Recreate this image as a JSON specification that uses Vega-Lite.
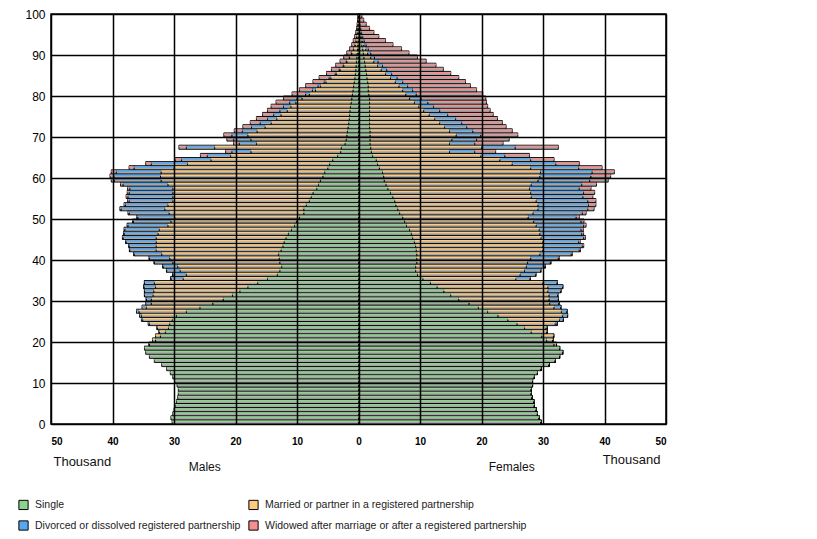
{
  "$schema": "https://vega.github.io/schema/vega-lite/v6.json",
  "width": 615,
  "height": 410,
  "autosize": {"type": "none"},
  "padding": {"left": 51, "top": 14, "right": 151, "bottom": 115},
  "background": "#ffffff",
  "config": {
    "view": {"stroke": "#000000", "strokeWidth": 1.5},
    "font": "Liberation Sans",
    "legend": {
      "orient": "none",
      "legendX": -33,
      "legendY": 485,
      "columns": 2,
      "direction": "horizontal",
      "title": null,
      "symbolType": "square",
      "symbolSize": 85,
      "symbolStrokeColor": "#000000",
      "symbolStrokeWidth": 1,
      "symbolOpacity": 1,
      "labelFont": "Liberation Sans",
      "labelFontSize": 10.5,
      "labelColor": "#222222",
      "labelLimit": 400,
      "labelOffset": 6,
      "rowPadding": 6,
      "columnPadding": 5
    }
  },
  "layer": [
    {
      "data": {"values": [
        {"age":0,"mS":30.3,"mM":0,"mD":0,"mW":0,"fS":29.7,"fM":0,"fD":0,"fW":0},
        {"age":1,"mS":30.5,"mM":0,"mD":0,"mW":0,"fS":29.4,"fM":0,"fD":0,"fW":0},
        {"age":2,"mS":30.2,"mM":0,"mD":0,"mW":0,"fS":29.1,"fM":0,"fD":0,"fW":0},
        {"age":3,"mS":30.0,"mM":0,"mD":0,"mW":0,"fS":28.9,"fM":0,"fD":0,"fW":0},
        {"age":4,"mS":29.8,"mM":0,"mD":0,"mW":0,"fS":28.6,"fM":0,"fD":0,"fW":0},
        {"age":5,"mS":29.6,"mM":0,"mD":0,"mW":0,"fS":28.5,"fM":0,"fD":0,"fW":0},
        {"age":6,"mS":29.4,"mM":0,"mD":0,"mW":0,"fS":28.2,"fM":0,"fD":0,"fW":0},
        {"age":7,"mS":29.3,"mM":0,"mD":0,"mW":0,"fS":28.1,"fM":0,"fD":0,"fW":0},
        {"age":8,"mS":29.3,"mM":0,"mD":0,"mW":0,"fS":28.1,"fM":0,"fD":0,"fW":0},
        {"age":9,"mS":29.5,"mM":0,"mD":0,"mW":0,"fS":28.3,"fM":0,"fD":0,"fW":0},
        {"age":10,"mS":29.9,"mM":0,"mD":0,"mW":0,"fS":28.3,"fM":0,"fD":0,"fW":0},
        {"age":11,"mS":30.2,"mM":0,"mD":0,"mW":0,"fS":28.6,"fM":0,"fD":0,"fW":0},
        {"age":12,"mS":30.6,"mM":0,"mD":0,"mW":0,"fS":29.1,"fM":0,"fD":0,"fW":0},
        {"age":13,"mS":31.2,"mM":0,"mD":0,"mW":0,"fS":29.7,"fM":0,"fD":0,"fW":0},
        {"age":14,"mS":32.0,"mM":0,"mD":0,"mW":0,"fS":31.0,"fM":0,"fD":0,"fW":0},
        {"age":15,"mS":33.2,"mM":0,"mD":0,"mW":0,"fS":32.0,"fM":0,"fD":0,"fW":0},
        {"age":16,"mS":34.0,"mM":0,"mD":0,"mW":0,"fS":32.7,"fM":0,"fD":0,"fW":0},
        {"age":17,"mS":34.6,"mM":0,"mD":0,"mW":0,"fS":33.2,"fM":0,"fD":0,"fW":0},
        {"age":18,"mS":34.8,"mM":0,"mD":0,"mW":0,"fS":32.7,"fM":0,"fD":0,"fW":0},
        {"age":19,"mS":34.0,"mM":0.1,"mD":0,"mW":0,"fS":31.8,"fM":0.4,"fD":0,"fW":0},
        {"age":20,"mS":33.0,"mM":0.5,"mD":0,"mW":0,"fS":30.6,"fM":1.0,"fD":0,"fW":0},
        {"age":21,"mS":32.2,"mM":0.8,"mD":0,"mW":0,"fS":29.8,"fM":1.9,"fD":0.05,"fW":0},
        {"age":22,"mS":31.4,"mM":1.0,"mD":0.05,"mW":0,"fS":28.1,"fM":2.5,"fD":0.1,"fW":0},
        {"age":23,"mS":30.9,"mM":1.8,"mD":0.1,"mW":0,"fS":27.0,"fM":3.5,"fD":0.2,"fW":0},
        {"age":24,"mS":30.7,"mM":3.3,"mD":0.2,"mW":0,"fS":25.8,"fM":6.2,"fD":0.3,"fW":0},
        {"age":25,"mS":30.3,"mM":4.8,"mD":0.2,"mW":0,"fS":24.3,"fM":8.4,"fD":0.6,"fW":0},
        {"age":26,"mS":29.6,"mM":5.7,"mD":0.3,"mW":0,"fS":22.7,"fM":10.5,"fD":0.8,"fW":0},
        {"age":27,"mS":28.0,"mM":7.7,"mD":0.4,"mW":0,"fS":21.0,"fM":12.0,"fD":0.9,"fW":0},
        {"age":28,"mS":25.8,"mM":8.7,"mD":0.7,"mW":0,"fS":19.5,"fM":12.3,"fD":1.1,"fW":0.01},
        {"age":29,"mS":23.7,"mM":10.0,"mD":0.9,"mW":0,"fS":18.0,"fM":13.1,"fD":1.5,"fW":0.01},
        {"age":30,"mS":22.0,"mM":11.7,"mD":0.8,"mW":0.01,"fS":16.3,"fM":14.7,"fD":1.5,"fW":0.02},
        {"age":31,"mS":20.5,"mM":12.9,"mD":1.4,"mW":0.01,"fS":15.0,"fM":16.0,"fD":1.4,"fW":0.02},
        {"age":32,"mS":19.3,"mM":14.0,"mD":1.5,"mW":0.01,"fS":13.9,"fM":16.9,"fD":2.1,"fW":0.03},
        {"age":33,"mS":18.0,"mM":15.0,"mD":1.9,"mW":0.01,"fS":12.8,"fM":18.0,"fD":2.4,"fW":0.04},
        {"age":34,"mS":16.4,"mM":16.8,"mD":1.6,"mW":0.02,"fS":11.7,"fM":18.3,"fD":2.3,"fW":0.05},
        {"age":35,"mS":14.8,"mM":13.7,"mD":2.0,"mW":0.02,"fS":10.5,"fM":15.1,"fD":2.3,"fW":0.06},
        {"age":36,"mS":13.2,"mM":14.8,"mD":2.2,"mW":0.02,"fS":9.6,"fM":16.7,"fD":2.5,"fW":0.08},
        {"age":37,"mS":12.8,"mM":16.2,"mD":2.2,"mW":0.03,"fS":9.3,"fM":17.7,"fD":2.6,"fW":0.1},
        {"age":38,"mS":12.5,"mM":16.9,"mD":2.4,"mW":0.03,"fS":9.3,"fM":18.0,"fD":3.0,"fW":0.1},
        {"age":39,"mS":12.8,"mM":17.4,"mD":3.0,"mW":0.04,"fS":9.5,"fM":18.0,"fD":3.7,"fW":0.12},
        {"age":40,"mS":12.9,"mM":17.8,"mD":3.3,"mW":0.05,"fS":9.5,"fM":18.5,"fD":4.5,"fW":0.15},
        {"age":41,"mS":13.0,"mM":19.0,"mD":4.5,"mW":0.05,"fS":9.5,"fM":20.0,"fD":5.1,"fW":0.17},
        {"age":42,"mS":12.6,"mM":20.3,"mD":4.3,"mW":0.06,"fS":9.4,"fM":20.6,"fD":5.9,"fW":0.2},
        {"age":43,"mS":12.3,"mM":20.6,"mD":4.4,"mW":0.07,"fS":9.3,"fM":20.7,"fD":6.4,"fW":0.22},
        {"age":44,"mS":12.1,"mM":20.8,"mD":4.9,"mW":0.08,"fS":9.1,"fM":20.9,"fD":5.8,"fW":0.25},
        {"age":45,"mS":11.8,"mM":21.1,"mD":5.4,"mW":0.09,"fS":8.8,"fM":20.9,"fD":6.9,"fW":0.3},
        {"age":46,"mS":11.4,"mM":21.2,"mD":5.5,"mW":0.1,"fS":8.6,"fM":20.9,"fD":6.8,"fW":0.3},
        {"age":47,"mS":10.9,"mM":21.5,"mD":5.6,"mW":0.12,"fS":8.3,"fM":21.1,"fD":6.8,"fW":0.35},
        {"age":48,"mS":10.4,"mM":20.6,"mD":6.5,"mW":0.13,"fS":7.8,"fM":21.1,"fD":7.7,"fW":0.4},
        {"age":49,"mS":10.1,"mM":20.4,"mD":6.1,"mW":0.15,"fS":7.5,"fM":21.0,"fD":7.7,"fW":0.45},
        {"age":50,"mS":9.6,"mM":20.3,"mD":6.0,"mW":0.16,"fS":7.2,"fM":20.4,"fD":7.8,"fW":0.5},
        {"age":51,"mS":8.9,"mM":21.9,"mD":6.5,"mW":0.18,"fS":6.7,"fM":21.7,"fD":8.0,"fW":0.6},
        {"age":52,"mS":8.9,"mM":22.6,"mD":7.1,"mW":0.2,"fS":6.4,"fM":22.8,"fD":8.1,"fW":1.0},
        {"age":53,"mS":8.5,"mM":22.5,"mD":6.9,"mW":0.22,"fS":6.1,"fM":23.1,"fD":8.2,"fW":1.2},
        {"age":54,"mS":8.0,"mM":22.2,"mD":7.1,"mW":0.25,"fS":5.9,"fM":23.0,"fD":8.4,"fW":1.3},
        {"age":55,"mS":7.7,"mM":22.5,"mD":7.3,"mW":0.28,"fS":5.6,"fM":22.5,"fD":8.4,"fW":1.6},
        {"age":56,"mS":7.4,"mM":22.8,"mD":7.1,"mW":0.3,"fS":5.2,"fM":22.8,"fD":8.6,"fW":1.8},
        {"age":57,"mS":6.8,"mM":23.4,"mD":7.0,"mW":0.35,"fS":4.8,"fM":23.0,"fD":8.1,"fW":1.9},
        {"age":58,"mS":6.5,"mM":24.5,"mD":7.3,"mW":0.4,"fS":4.5,"fM":23.6,"fD":8.2,"fW":2.4},
        {"age":59,"mS":6.2,"mM":25.9,"mD":7.6,"mW":0.5,"fS":4.2,"fM":25.0,"fD":8.4,"fW":3.0},
        {"age":60,"mS":5.8,"mM":26.4,"mD":7.6,"mW":0.6,"fS":4.1,"fM":25.4,"fD":8.3,"fW":3.2},
        {"age":61,"mS":5.5,"mM":26.6,"mD":7.3,"mW":0.8,"fS":3.9,"fM":25.7,"fD":8.4,"fW":3.6},
        {"age":62,"mS":5.0,"mM":25.0,"mD":6.5,"mW":0.8,"fS":3.4,"fM":24.6,"fD":7.8,"fW":3.8},
        {"age":63,"mS":4.7,"mM":23.1,"mD":5.9,"mW":0.9,"fS":3.1,"fM":21.9,"fD":7.1,"fW":3.8},
        {"age":64,"mS":4.2,"mM":19.8,"mD":4.8,"mW":1.0,"fS":2.9,"fM":20.1,"fD":5.0,"fW":3.8},
        {"age":65,"mS":3.4,"mM":17.4,"mD":3.8,"mW":1.1,"fS":2.3,"fM":17.6,"fD":3.9,"fW":4.0},
        {"age":66,"mS":2.9,"mM":14.6,"mD":3.1,"mW":1.0,"fS":2.1,"fM":12.7,"fD":4.1,"fW":3.4},
        {"age":67,"mS":2.8,"mM":20.6,"mD":4.6,"mW":1.2,"fS":2.0,"fM":18.0,"fD":5.5,"fW":7.0},
        {"age":68,"mS":2.2,"mM":14.4,"mD":2.8,"mW":0.9,"fS":1.9,"fM":12.9,"fD":4.1,"fW":4.6},
        {"age":69,"mS":2.0,"mM":15.5,"mD":2.8,"mW":1.1,"fS":1.9,"fM":13.3,"fD":4.0,"fW":5.3},
        {"age":70,"mS":1.9,"mM":16.1,"mD":2.6,"mW":1.3,"fS":1.9,"fM":14.0,"fD":4.0,"fW":6.0},
        {"age":71,"mS":1.8,"mM":14.7,"mD":2.4,"mW":1.3,"fS":1.9,"fM":12.9,"fD":3.8,"fW":6.4},
        {"age":72,"mS":1.7,"mM":13.5,"mD":2.2,"mW":1.4,"fS":1.8,"fM":12.2,"fD":3.6,"fW":6.4},
        {"age":73,"mS":1.6,"mM":12.6,"mD":1.8,"mW":1.6,"fS":1.8,"fM":11.4,"fD":3.6,"fW":6.6},
        {"age":74,"mS":1.5,"mM":11.8,"mD":1.5,"mW":1.8,"fS":1.8,"fM":10.6,"fD":3.4,"fW":6.8},
        {"age":75,"mS":1.45,"mM":11.15,"mD":1.2,"mW":1.8,"fS":1.8,"fM":9.7,"fD":3.0,"fW":7.4},
        {"age":76,"mS":1.4,"mM":10.2,"mD":1.2,"mW":2.0,"fS":1.8,"fM":8.8,"fD":2.6,"fW":8.2},
        {"age":77,"mS":1.3,"mM":9.7,"mD":1.2,"mW":2.0,"fS":1.8,"fM":8.0,"fD":2.4,"fW":8.8},
        {"age":78,"mS":1.2,"mM":9.0,"mD":1.0,"mW":2.2,"fS":1.8,"fM":7.3,"fD":2.2,"fW":9.5},
        {"age":79,"mS":1.1,"mM":8.1,"mD":0.8,"mW":2.2,"fS":1.8,"fM":6.5,"fD":1.9,"fW":10.5},
        {"age":80,"mS":1.0,"mM":7.0,"mD":0.6,"mW":2.2,"fS":1.7,"fM":6.0,"fD":1.7,"fW":10.8},
        {"age":81,"mS":0.9,"mM":6.1,"mD":0.5,"mW":2.1,"fS":1.6,"fM":5.6,"fD":1.6,"fW":10.4},
        {"age":82,"mS":0.8,"mM":5.4,"mD":0.4,"mW":2.0,"fS":1.6,"fM":5.0,"fD":1.4,"fW":10.2},
        {"age":83,"mS":0.7,"mM":4.6,"mD":0.3,"mW":1.8,"fS":1.5,"fM":4.5,"fD":1.2,"fW":10.2},
        {"age":84,"mS":0.6,"mM":3.9,"mD":0.3,"mW":1.6,"fS":1.4,"fM":3.8,"fD":1.1,"fW":10.0},
        {"age":85,"mS":0.5,"mM":3.1,"mD":0.2,"mW":1.4,"fS":1.3,"fM":3.1,"fD":1.0,"fW":9.6},
        {"age":86,"mS":0.45,"mM":2.55,"mD":0.15,"mW":1.25,"fS":1.2,"fM":2.5,"fD":0.9,"fW":9.2},
        {"age":87,"mS":0.4,"mM":2.0,"mD":0.1,"mW":1.2,"fS":1.1,"fM":2.0,"fD":0.8,"fW":8.7},
        {"age":88,"mS":0.33,"mM":1.57,"mD":0.1,"mW":1.0,"fS":1.0,"fM":1.5,"fD":0.7,"fW":7.8},
        {"age":89,"mS":0.28,"mM":1.17,"mD":0.05,"mW":0.9,"fS":0.9,"fM":1.1,"fD":0.6,"fW":7.0},
        {"age":90,"mS":0.22,"mM":0.88,"mD":0.05,"mW":0.75,"fS":0.8,"fM":0.7,"fD":0.5,"fW":6.2},
        {"age":91,"mS":0.17,"mM":0.63,"mD":0.03,"mW":0.62,"fS":0.7,"fM":0.5,"fD":0.4,"fW":5.4},
        {"age":92,"mS":0.13,"mM":0.45,"mD":0.02,"mW":0.5,"fS":0.55,"fM":0.35,"fD":0.35,"fW":4.35},
        {"age":93,"mS":0.1,"mM":0.32,"mD":0.02,"mW":0.41,"fS":0.45,"fM":0.25,"fD":0.25,"fW":3.45},
        {"age":94,"mS":0.07,"mM":0.23,"mD":0.01,"mW":0.31,"fS":0.35,"fM":0.17,"fD":0.18,"fW":2.6},
        {"age":95,"mS":0.05,"mM":0.15,"mD":0.01,"mW":0.24,"fS":0.27,"fM":0.11,"fD":0.14,"fW":1.98},
        {"age":96,"mS":0.035,"mM":0.095,"mD":0.01,"mW":0.18,"fS":0.2,"fM":0.07,"fD":0.1,"fW":1.43},
        {"age":97,"mS":0.025,"mM":0.055,"mD":0.005,"mW":0.135,"fS":0.14,"fM":0.04,"fD":0.07,"fW":1.0},
        {"age":98,"mS":0.015,"mM":0.035,"mD":0,"mW":0.09,"fS":0.1,"fM":0.02,"fD":0.05,"fW":0.68},
        {"age":99,"mS":0.01,"mM":0.02,"mD":0,"mW":0.06,"fS":0.06,"fM":0.01,"fD":0.03,"fW":0.45}
      ]},
      "transform": [
        {"fold": ["mS","mM","mD","mW","fS","fM","fD","fW"], "as": ["key","val"]},
        {"calculate": "substring(datum.key,0,1)", "as": "sex"},
        {"calculate": "substring(datum.key,1,2)", "as": "c"},
        {"calculate": "datum.sex == 'm' ? -datum.val : datum.val", "as": "v"},
        {"calculate": "indexof(['S','M','D','W'], datum.c)", "as": "ord"},
        {"calculate": "datum.c == 'S' ? 'Single' : datum.c == 'M' ? 'Married or partner in a registered partnership' : datum.c == 'D' ? 'Divorced or dissolved registered partnership' : 'Widowed after marriage or after a registered partnership'", "as": "status"},
        {"stack": "v", "groupby": ["age","sex"], "sort": [{"field": "ord", "order": "ascending"}], "as": ["x0","x1"]},
        {"calculate": "datum.age + 1", "as": "age1"},
        {"calculate": "datum.age + 0.5", "as": "cy0"},
        {"calculate": "datum.age + 0.86", "as": "cy1"}
      ],
      "layer": [
        {
          "mark": {"type": "rect", "fill": "#a6a6a6", "stroke": "#000000", "strokeWidth": 0.9},
          "encoding": {
            "x": {"field": "x0", "type": "quantitative", "scale": {"domain": [-50, 50], "nice": false, "zero": false},
              "axis": {"values": [-50,-40,-30,-20,-10,0,10,20,30,40,50], "labelExpr": "abs(datum.value)", "grid": true, "gridColor": "#000000", "gridWidth": 1.5, "ticks": false, "domain": false, "title": null, "labelPadding": 12, "labelFontSize": 10, "labelFontWeight": "bold", "labelFont": "Liberation Sans", "labelColor": "#000000", "zindex": 1}},
            "x2": {"field": "x1"},
            "y": {"field": "age", "type": "quantitative", "scale": {"domain": [0, 100], "nice": false, "zero": false},
              "axis": {"values": [0,5,10,15,20,25,30,35,40,45,50,55,60,65,70,75,80,85,90,95,100], "grid": true, "gridColor": "#000000", "gridWidth": 1.5, "ticks": false, "domain": false, "title": null, "labelPadding": 6, "labelFontSize": 12, "labelColor": "#000000", "zindex": 1}},
            "y2": {"field": "age1"}
          }
        },
        {
          "mark": {"type": "rect", "strokeWidth": 0},
          "encoding": {
            "x": {"field": "x0", "type": "quantitative"},
            "x2": {"field": "x1"},
            "y": {"field": "cy0", "type": "quantitative"},
            "y2": {"field": "cy1"},
            "color": {"field": "status", "type": "nominal",
              "scale": {"domain": ["Single","Married or partner in a registered partnership","Divorced or dissolved registered partnership","Widowed after marriage or after a registered partnership"],
                        "range": ["#8fd18f","#fcc97e","#58a8ef","#f49090"]},
              "legend": {}}
          }
        }
      ]
    },
    {
      "data": {"values": [{}]},
      "mark": {"type": "text", "text": "Thousand", "fontSize": 13, "font": "Liberation Sans", "color": "#111111", "align": "center", "baseline": "middle"},
      "encoding": {"x": {"datum": -44.9, "type": "quantitative"}, "y": {"datum": -9.3, "type": "quantitative"}}
    },
    {
      "data": {"values": [{}]},
      "mark": {"type": "text", "text": "Thousand", "fontSize": 13, "font": "Liberation Sans", "color": "#111111", "align": "center", "baseline": "middle"},
      "encoding": {"x": {"datum": 44.4, "type": "quantitative"}, "y": {"datum": -8.8, "type": "quantitative"}}
    },
    {
      "data": {"values": [{}]},
      "mark": {"type": "text", "text": "Males", "fontSize": 12, "font": "Liberation Sans", "color": "#111111", "align": "center", "baseline": "middle"},
      "encoding": {"x": {"datum": -25, "type": "quantitative"}, "y": {"datum": -10.5, "type": "quantitative"}}
    },
    {
      "data": {"values": [{}]},
      "mark": {"type": "text", "text": "Females", "fontSize": 12, "font": "Liberation Sans", "color": "#111111", "align": "center", "baseline": "middle"},
      "encoding": {"x": {"datum": 24.9, "type": "quantitative"}, "y": {"datum": -10.5, "type": "quantitative"}}
    }
  ]
}
